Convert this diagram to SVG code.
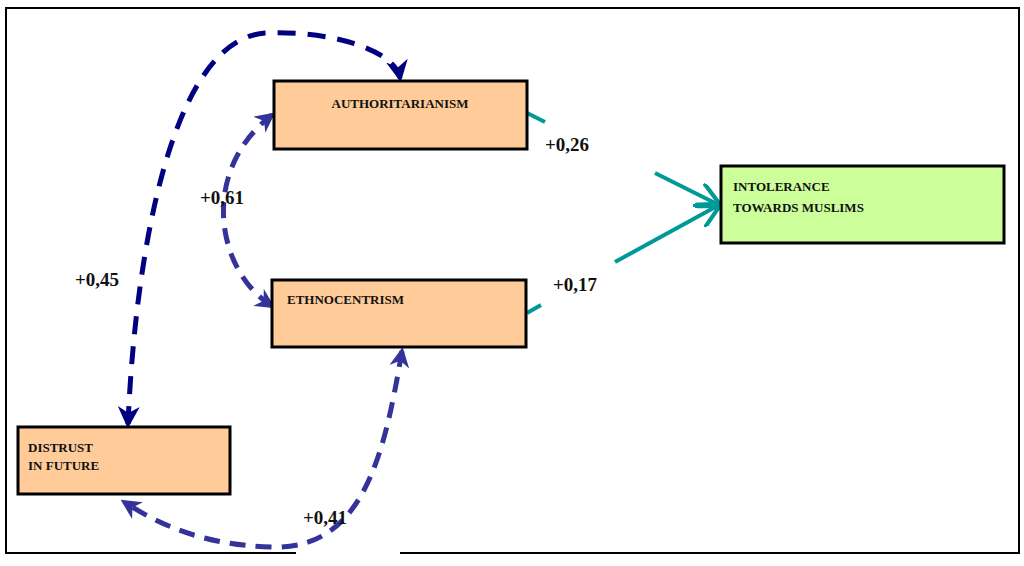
<svg xmlns="http://www.w3.org/2000/svg" width="1024" height="566" viewBox="0 0 1024 566">
<defs>
<style>
.box{stroke:#000;stroke-width:3}
.t{font-family:"Liberation Serif",serif;font-weight:bold;font-size:13px;fill:#111}
.l{font-family:"Liberation Serif",serif;font-weight:bold;font-size:19px;fill:#111}
.d1{fill:none;stroke:#000080;stroke-width:5;stroke-dasharray:18,12}
.d2{fill:none;stroke:#333399;stroke-width:5;stroke-dasharray:16,10}
.tl{fill:none;stroke:#009999;stroke-width:4}
</style>
<marker id="a1" markerWidth="8" markerHeight="8" refX="6" refY="4" orient="auto" markerUnits="userSpaceOnUse" viewBox="0 0 8 8"><path d="M0,0 L8,4 L0,8 L2,4z" fill="#000080"/></marker>
<marker id="a2" viewBox="0 0 10 10" refX="8" refY="5" markerWidth="20" markerHeight="20" orient="auto-start-reverse" markerUnits="userSpaceOnUse"><path d="M0,0 L10,5 L0,10 L3,5z" fill="#333399"/></marker>
<marker id="a3" viewBox="0 0 10 10" refX="8" refY="5" markerWidth="22" markerHeight="22" orient="auto-start-reverse" markerUnits="userSpaceOnUse"><path d="M0,0 L10,5 L0,10 L3,5z" fill="#000080"/></marker>
<marker id="a4" viewBox="0 0 10 10" refX="9" refY="5" markerWidth="26" markerHeight="26" orient="auto" markerUnits="userSpaceOnUse"><path d="M0,0 L10,5 L0,10" fill="none" stroke="#009999" stroke-width="1.6"/></marker>
</defs>
<rect width="1024" height="566" fill="#fff"/>
<rect x="6" y="8" width="1013" height="545" fill="none" stroke="#000" stroke-width="2"/>
<rect x="296" y="550" width="104" height="6" fill="#fff"/>
<g id="connectors">
<path class="d1" d="M128,424 C135,260 170,40 265,33 C330,30 395,50 400,78" marker-start="url(#a3)" marker-end="url(#a3)"/>
<path class="d2" d="M272,306 C215,270 200,170 272,115" marker-start="url(#a2)" marker-end="url(#a2)"/>
<path class="d2" d="M402,351 C385,450 365,548 275,547 C205,546 160,525 124,502" marker-start="url(#a2)" marker-end="url(#a2)"/>
<path class="tl" d="M527,113 L545,122"/>
<path class="tl" d="M655,173 L719,205" marker-end="url(#a4)"/>
<path class="tl" d="M527,313 L541,305"/>
<path class="tl" d="M615,262 L719,205" marker-end="url(#a4)"/>
</g>
<g id="authoritarianism"><rect class="box" x="274" y="81" width="253" height="68" fill="#ffcc99"/><text class="t" x="400" y="108" text-anchor="middle">AUTHORITARIANISM</text></g>
<g id="ethnocentrism"><rect class="box" x="272" y="280" width="254" height="67" fill="#ffcc99"/><text class="t" x="287" y="304">ETHNOCENTRISM</text></g>
<g id="intolerance"><rect class="box" x="721" y="166" width="283" height="77" fill="#ccff99"/><text class="t" x="733" y="191">INTOLERANCE</text><text class="t" x="733" y="212">TOWARDS MUSLIMS</text></g>
<g id="distrust"><rect class="box" x="18" y="427" width="212" height="67" fill="#ffcc99"/><text class="t" x="28" y="452">DISTRUST</text><text class="t" x="28" y="470">IN FUTURE</text></g>
<g id="labels">
<text class="l" x="545" y="151">+0,26</text>
<text class="l" x="200" y="204">+0,61</text>
<text class="l" x="75" y="286">+0,45</text>
<text class="l" x="553" y="291">+0,17</text>
<text class="l" x="303" y="524">+0,41</text>
</g>
</svg>
